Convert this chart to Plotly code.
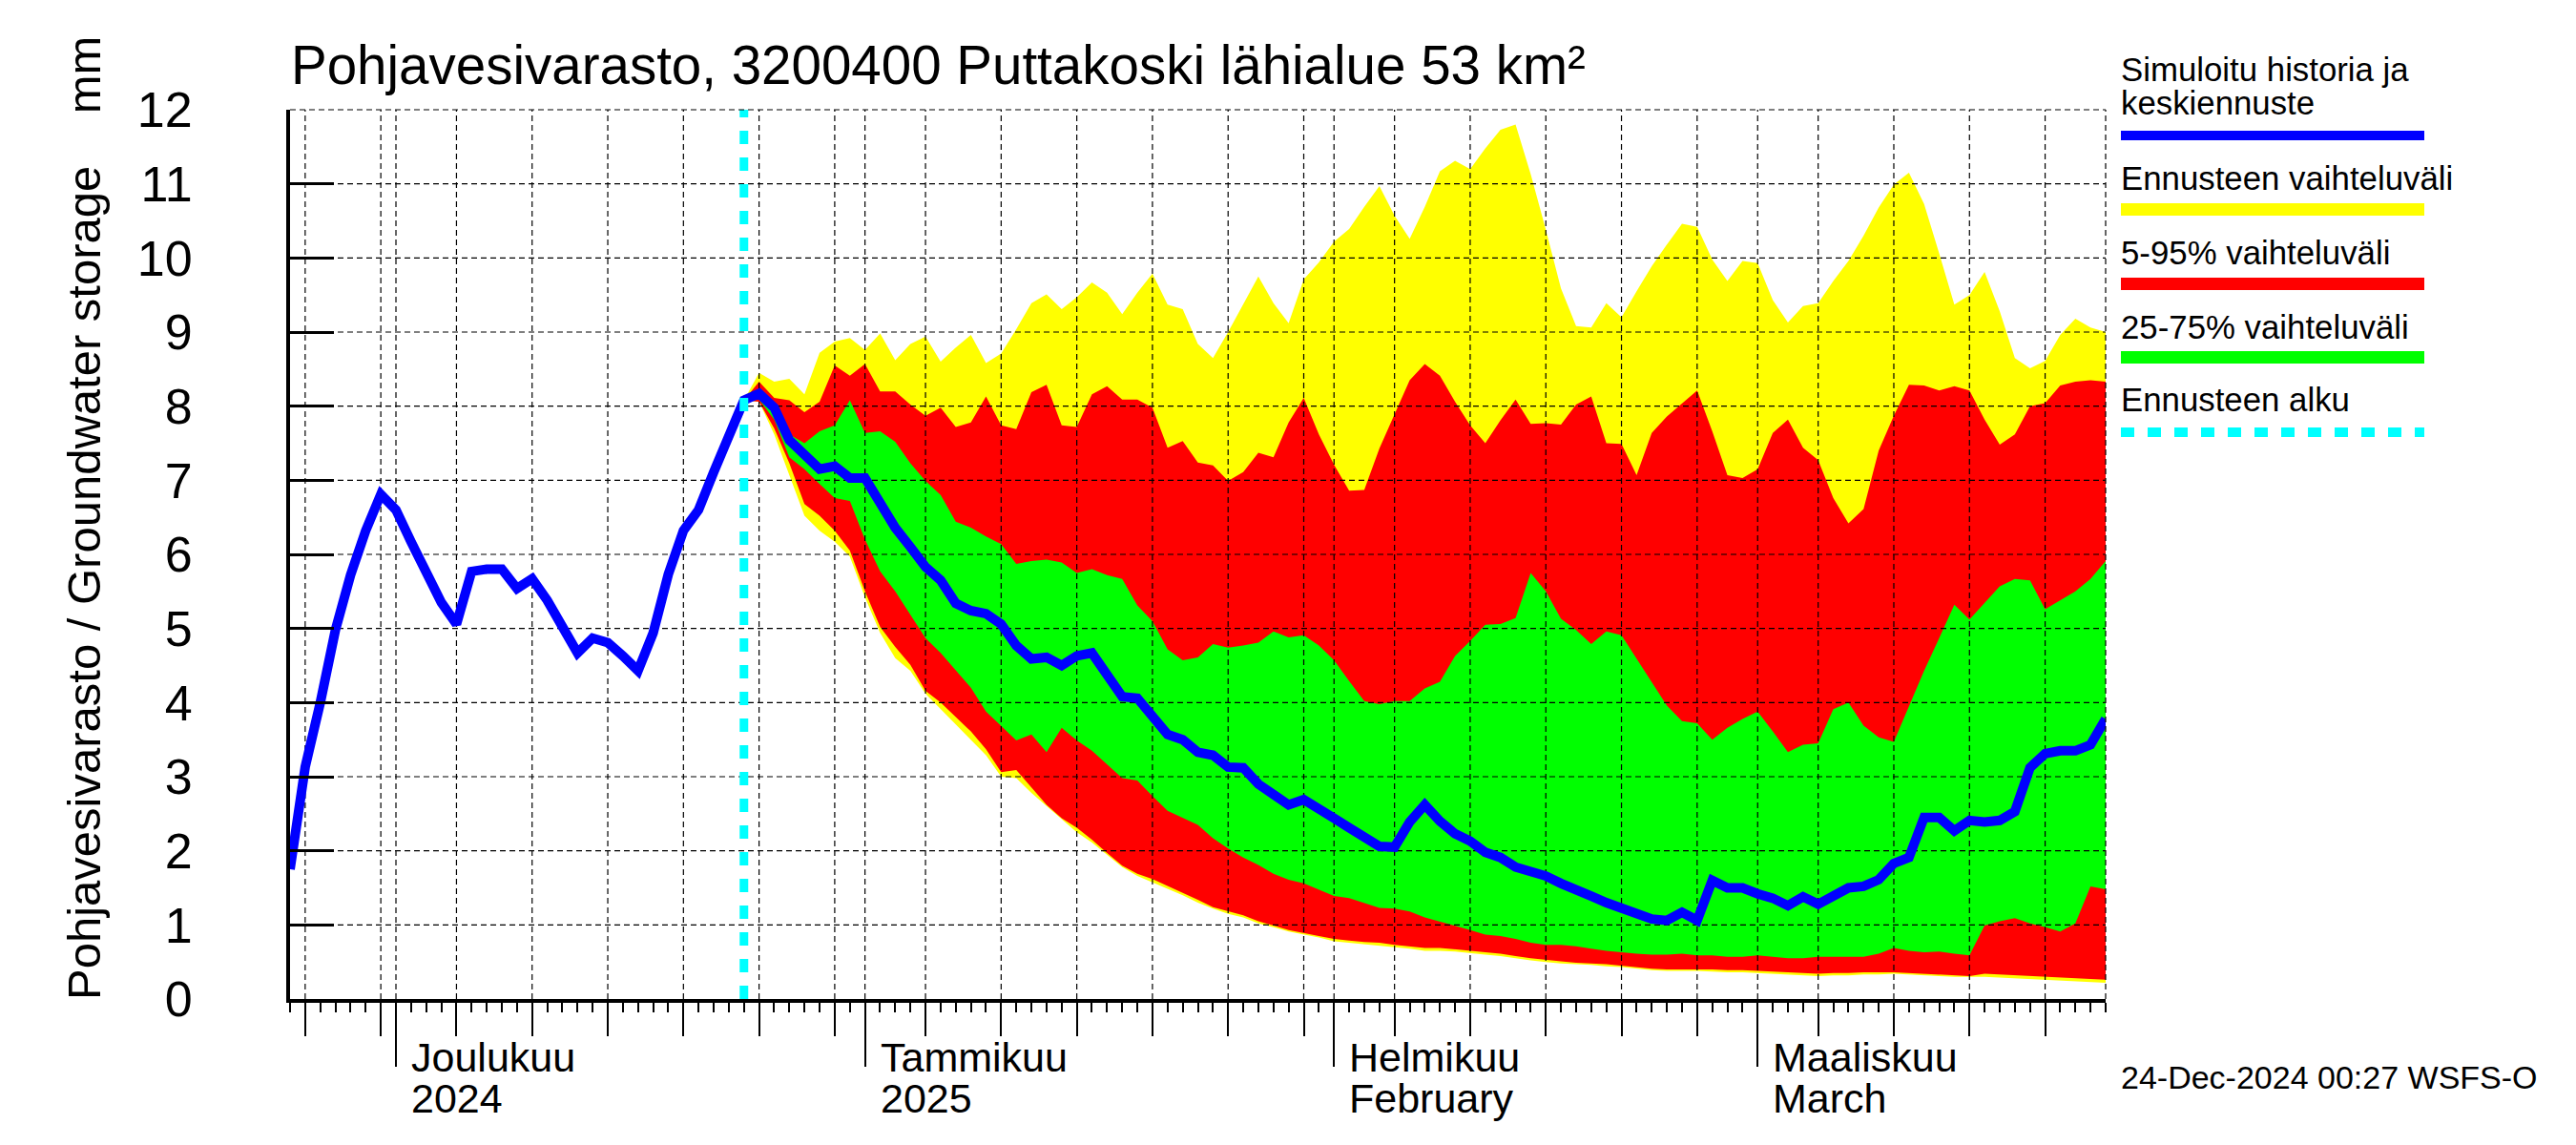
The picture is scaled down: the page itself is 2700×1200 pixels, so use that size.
import pandas as pd
import plotly.graph_objects as go

# ---------------- data ----------------
start_date = "2024-11-24"
end_date = "2025-03-24"
forecast_start = "2024-12-24"

# simulated history + median forecast, daily from 2024-11-24
storage_median = [
    1.75, 3.13, 4.0, 4.98, 5.72, 6.32, 6.81,
    6.6, 6.17, 5.77, 5.35, 5.06, 5.77, 5.8, 5.8, 5.54, 5.67,
    5.38, 5.0, 4.67, 4.87, 4.81, 4.63, 4.43, 4.94, 5.73, 6.32,
    6.6, 7.11, 7.62, 8.08, 8.17, 7.98, 7.54, 7.35, 7.15, 7.19,
    7.03, 7.03, 6.68, 6.36, 6.1, 5.83, 5.65, 5.34, 5.24, 5.2,
    5.06, 4.77, 4.59, 4.61, 4.5, 4.63, 4.67, 4.35, 4.08, 4.06,
    3.8, 3.57, 3.5, 3.33, 3.29, 3.13, 3.12, 2.9, 2.76, 2.62,
    2.69, 2.58, 2.44, 2.31, 2.19, 2.06, 2.05, 2.39, 2.62, 2.4,
    2.23, 2.13, 1.98, 1.91, 1.78, 1.72, 1.66, 1.56, 1.46, 1.39,
    1.3, 1.22, 1.15, 1.08, 1.06, 1.17, 1.06, 1.6, 1.5, 1.5,
    1.42, 1.36, 1.26, 1.38, 1.28, 1.4, 1.5, 1.52, 1.61, 1.83,
    1.91, 2.45, 2.45, 2.27, 2.41, 2.39, 2.41, 2.53, 3.12, 3.31,
    3.35, 3.35, 3.43, 3.78,
]

# forecast distribution, daily from 2024-12-24
fc_max = [
    8.08, 8.45, 8.33, 8.37, 8.16, 8.72, 8.87, 8.92, 8.76, 8.98,
    8.62, 8.84, 8.94, 8.6, 8.79, 8.96, 8.58, 8.71, 9.04, 9.39,
    9.51, 9.31, 9.47, 9.67, 9.53, 9.24, 9.53, 9.79, 9.37, 9.31,
    8.84, 8.65, 9.0, 9.37, 9.75, 9.39, 9.12, 9.71, 9.94, 10.22,
    10.39, 10.69, 10.97, 10.57, 10.26, 10.69, 11.17, 11.31, 11.2, 11.48,
    11.73, 11.8, 11.13, 10.38, 9.59, 9.08, 9.06, 9.39, 9.2, 9.55,
    9.89, 10.18, 10.46, 10.42, 9.98, 9.69, 9.96, 9.93, 9.43, 9.13,
    9.35, 9.39, 9.69, 9.96, 10.3, 10.68, 10.99, 11.15, 10.73, 10.06,
    9.37, 9.5, 9.81, 9.28, 8.65, 8.51, 8.61, 8.96, 9.18, 9.06,
    9.0,
]
fc_p95 = [
    8.08, 8.33, 8.11, 8.08, 7.92, 8.06, 8.55, 8.41, 8.57, 8.2,
    8.2, 8.02, 7.87, 7.98, 7.72, 7.78, 8.13, 7.74, 7.69, 8.19,
    8.29, 7.74, 7.72, 8.16, 8.27, 8.09, 8.09, 7.98, 7.44, 7.53,
    7.24, 7.2, 6.99, 7.11, 7.37, 7.31, 7.78, 8.11, 7.62, 7.21,
    6.86, 6.87, 7.43, 7.9, 8.35, 8.57, 8.41, 8.06, 7.74, 7.5,
    7.81, 8.09, 7.76, 7.77, 7.75, 8.02, 8.13, 7.5, 7.49, 7.07,
    7.64, 7.86, 8.03, 8.21, 7.66, 7.07, 7.03, 7.15, 7.64, 7.82,
    7.44, 7.27, 6.76, 6.42, 6.61, 7.4, 7.87, 8.29, 8.28, 8.21,
    8.27, 8.21, 7.82, 7.48, 7.62, 8.0, 8.04, 8.28, 8.33, 8.35,
    8.33,
]
fc_p75 = [
    8.08, 8.17, 7.94, 7.62, 7.5, 7.66, 7.74, 8.08, 7.64, 7.66,
    7.52, 7.23, 6.99, 6.8, 6.44, 6.36, 6.24, 6.14, 5.87, 5.91,
    5.93, 5.89, 5.75, 5.8, 5.72, 5.67, 5.31, 5.1, 4.72, 4.57,
    4.61, 4.79, 4.74, 4.77, 4.81, 4.96, 4.88, 4.91, 4.77, 4.57,
    4.29, 4.02, 3.98, 4.02, 4.02, 4.19, 4.28, 4.63, 4.83, 5.05,
    5.06, 5.14, 5.75, 5.5, 5.13, 4.98, 4.79, 4.96, 4.91, 4.59,
    4.28, 3.96, 3.75, 3.72, 3.5, 3.66, 3.78, 3.88, 3.61, 3.33,
    3.43, 3.45, 3.91, 4.0, 3.69, 3.53, 3.47, 3.96, 4.43, 4.87,
    5.32, 5.12, 5.34, 5.57, 5.67, 5.65, 5.26, 5.38, 5.5, 5.67,
    5.91,
]
fc_p25 = [
    8.08, 8.09, 7.82, 7.31, 7.15, 6.95, 6.76, 6.72, 6.2, 5.77,
    5.5, 5.18, 4.87, 4.67, 4.43, 4.2, 3.88, 3.69, 3.49, 3.57,
    3.33, 3.66, 3.49, 3.35, 3.17, 2.98, 2.95, 2.74, 2.54, 2.45,
    2.35, 2.17, 2.03, 1.91, 1.81, 1.69, 1.61, 1.56, 1.48, 1.39,
    1.36, 1.3, 1.23, 1.22, 1.18, 1.1, 1.04, 0.99, 0.93, 0.87,
    0.85, 0.81, 0.76, 0.73, 0.73, 0.71, 0.68, 0.65, 0.63, 0.61,
    0.6, 0.6, 0.61, 0.59, 0.59, 0.57, 0.57, 0.59, 0.57, 0.55,
    0.55, 0.57, 0.57, 0.57, 0.57, 0.61, 0.69, 0.65, 0.63, 0.64,
    0.61, 0.59, 0.99, 1.05, 1.09, 1.02, 0.97, 0.91, 1.02, 1.52,
    1.48,
]
fc_p5 = [
    8.08, 8.06, 7.7, 7.23, 6.68, 6.52, 6.32, 6.05, 5.5, 5.02,
    4.75, 4.51, 4.16, 4.0, 3.8, 3.61, 3.37, 3.06, 3.09, 2.86,
    2.62, 2.44, 2.31, 2.15, 1.97, 1.8, 1.69, 1.62, 1.52, 1.43,
    1.34, 1.24, 1.18, 1.13, 1.05, 0.99, 0.93, 0.89, 0.85, 0.81,
    0.79, 0.77, 0.76, 0.73, 0.71, 0.69, 0.69, 0.67, 0.65, 0.63,
    0.61, 0.58, 0.55, 0.53, 0.51, 0.49, 0.48, 0.47, 0.45, 0.43,
    0.41, 0.4, 0.4, 0.4, 0.4, 0.39, 0.39, 0.38, 0.37, 0.36,
    0.35, 0.34, 0.35, 0.35, 0.36, 0.36, 0.36, 0.35, 0.34, 0.33,
    0.32, 0.31, 0.34, 0.33, 0.32, 0.31, 0.3, 0.29, 0.28, 0.27,
    0.26,
]
fc_min = [
    8.08, 8.06, 7.62, 7.07, 6.52, 6.32, 6.17, 5.97, 5.42, 4.94,
    4.6, 4.43, 4.12, 3.92, 3.7, 3.5, 3.29, 3.0, 2.98, 2.78,
    2.6, 2.43, 2.25, 2.11, 1.95, 1.78, 1.66, 1.58, 1.49, 1.4,
    1.3, 1.22, 1.15, 1.1, 1.02, 0.97, 0.91, 0.87, 0.83, 0.78,
    0.76, 0.74, 0.72, 0.7, 0.68, 0.65, 0.65, 0.64, 0.62, 0.6,
    0.58, 0.55, 0.52, 0.5, 0.48, 0.47, 0.46, 0.44, 0.43, 0.41,
    0.39, 0.38, 0.38, 0.38, 0.37, 0.36, 0.36, 0.35, 0.34, 0.33,
    0.32, 0.31, 0.32, 0.32, 0.33, 0.33, 0.34, 0.33, 0.32, 0.31,
    0.3, 0.3, 0.3, 0.29, 0.28, 0.27, 0.26, 0.25, 0.24, 0.23,
    0.22,
]

y_tick_values = list(range(0, 13))
grid_days_of_month = [1, 5, 10, 15, 20, 25, 30]
month_label_lines = [
    ("Joulukuu", "2024"),
    ("Tammikuu", "2025"),
    ("Helmikuu", "February"),
    ("Maaliskuu", "March"),
]
legend_entries = [
    ("Simuloitu historia ja", "keskiennuste"),
    ("Ennusteen vaihteluväli",),
    ("5-95% vaihteluväli",),
    ("25-75% vaihteluväli",),
    ("Ennusteen alku",),
]
title_text = "Pohjavesivarasto, 3200400 Puttakoski lähialue 53 km²"
y_title_text = "Pohjavesivarasto / Groundwater storage" + "\u00a0" * 4 + "mm"
footer_text = "24-Dec-2024 00:27 WSFS-O"

# ---------------- styling ----------------
YELLOW, RED, GREEN, BLUE, CYAN = "#FFFF00", "#FF0000", "#00FF00", "#0000FF", "#00FFFF"
FONT = "Liberation Sans, Arial, Helvetica, sans-serif"

W, H = 2700, 1200
L, R, T, B = 304, 493, 115, 153
PW, PH = W - L - R, H - T - B


def fx(px):
    return (px - L) / PW


def fy(py):
    return (H - B - py) / PH


dates = pd.date_range(start_date, periods=len(storage_median), freq="D")
fc_dates = pd.date_range(forecast_start, periods=len(fc_max), freq="D")
all_days = pd.date_range(start_date, end_date, freq="D")
grid_days = [d for d in all_days if d.day in grid_days_of_month]
month_starts = [d for d in all_days if d.day == 1]

fig = go.Figure()


def band(upper, lower, color):
    xs = list(fc_dates) + list(fc_dates[::-1])
    ys = list(upper) + list(lower[::-1])
    fig.add_trace(go.Scatter(x=xs, y=ys, mode="lines", fill="toself",
                             fillcolor=color, line=dict(width=0, color=color),
                             hoverinfo="skip", showlegend=False))


band(fc_max, fc_min, YELLOW)
band(fc_p95, fc_p5, RED)
band(fc_p75, fc_p25, GREEN)

# dashed grid drawn above the bands, below the lines
gx, gy = [], []
for d in grid_days:
    gx += [d, d, None]
    gy += [y_tick_values[0], y_tick_values[-1], None]
for v in y_tick_values[1:-1]:
    gx += [all_days[0], all_days[-1], None]
    gy += [v, v, None]
fig.add_trace(go.Scatter(x=gx, y=gy, mode="lines",
                         line=dict(color="black", width=1.2, dash="6px,4px"),
                         hoverinfo="skip", showlegend=False, connectgaps=False))

fig.add_trace(go.Scatter(x=dates, y=storage_median, mode="lines",
                         line=dict(color=BLUE, width=10), showlegend=False))

fig.add_trace(go.Scatter(x=[fc_dates[0], fc_dates[0]],
                         y=[y_tick_values[0], y_tick_values[-1]], mode="lines",
                         line=dict(color=CYAN, width=9, dash="14px,14px"),
                         showlegend=False, hoverinfo="skip"))

# dummy trace to carry the month-tick axis
fig.add_trace(go.Scatter(x=month_starts, y=[None] * len(month_starts),
                         xaxis="x2", yaxis="y", mode="lines",
                         showlegend=False, hoverinfo="skip"))

shapes = []
# dashed top and right borders
shapes.append(dict(type="line", xref="paper", yref="paper", x0=0, x1=1, y0=1, y1=1,
                   line=dict(color="black", width=1.2, dash="6px,4px"), layer="above"))
shapes.append(dict(type="line", xref="paper", yref="paper", x0=1, x1=1, y0=0, y1=1,
                   line=dict(color="black", width=1.2, dash="6px,4px"), layer="above"))

# legend
leg_x0, leg_x1 = fx(2223), fx(2541)
leg_items = [
    (BLUE, 10, None, 142, [83, 118]),
    (YELLOW, 13, None, 219.5, [197]),
    (RED, 13, None, 297.5, [275]),
    (GREEN, 13, None, 374.5, [353]),
    (CYAN, 10, "14px,14px", 453, [429]),
]
annotations = []
LEG_FS = 34.8
for (color, wdt, dash, yc, baselines), texts in zip(leg_items, legend_entries):
    ln = dict(color=color, width=wdt)
    if dash:
        ln["dash"] = dash
    shapes.append(dict(type="line", xref="paper", yref="paper",
                       x0=leg_x0, x1=leg_x1, y0=fy(yc), y1=fy(yc), line=ln))
    for txt, bl in zip(texts, baselines):
        annotations.append(dict(text=txt, xref="paper", yref="paper",
                                x=fx(2221), y=fy(bl - 0.905 * LEG_FS - 1),
                                xanchor="left", yanchor="top", showarrow=False,
                                font=dict(family=FONT, size=LEG_FS, color="black")))

# title
TITLE_FS = 56.5
annotations.append(dict(text=title_text, xref="paper", yref="paper",
                        x=fx(303), y=fy(87 - 0.905 * TITLE_FS - 1),
                        xanchor="left", yanchor="top", showarrow=False,
                        font=dict(family=FONT, size=TITLE_FS, color="black")))
# y title
annotations.append(dict(text=y_title_text, xref="paper", yref="paper",
                        x=fx(88), y=fy(543), xanchor="center", yanchor="middle",
                        textangle=-90, showarrow=False,
                        font=dict(family=FONT, size=49, color="black")))
# month labels
MON_FS = 43
for d, (l1, l2) in zip(month_starts, month_label_lines):
    annotations.append(dict(text=l1, xref="x", yref="paper", x=d, xshift=14,
                            y=fy(1122 - 0.905 * MON_FS - 1), xanchor="left", yanchor="top",
                            showarrow=False, font=dict(family=FONT, size=MON_FS, color="black")))
    annotations.append(dict(text=l2, xref="x", yref="paper", x=d, xshift=14,
                            y=fy(1165 - 0.905 * MON_FS - 1), xanchor="left", yanchor="top",
                            showarrow=False, font=dict(family=FONT, size=MON_FS, color="black")))
# footer
FOOT_FS = 34
annotations.append(dict(text=footer_text, xref="paper", yref="paper",
                        x=fx(2221), y=fy(1140 - 0.905 * FOOT_FS - 1),
                        xanchor="left", yanchor="top", showarrow=False,
                        font=dict(family=FONT, size=FOOT_FS, color="black")))

fig.update_layout(
    width=W, height=H, autosize=False,
    margin=dict(l=L, r=R, t=T, b=B, pad=0),
    paper_bgcolor="white", plot_bgcolor="white",
    showlegend=False,
    font=dict(family=FONT, color="black"),
    xaxis=dict(
        type="date", range=[all_days[0], all_days[-1]],
        tickmode="array", tickvals=grid_days, showticklabels=False,
        ticks="outside", ticklen=35, tickwidth=1.5, tickcolor="black",
        minor=dict(tickmode="array", tickvals=list(all_days), ticks="outside",
                   ticklen=10, tickwidth=1.5, tickcolor="black", showgrid=False),
        showgrid=False, zeroline=False,
        showline=True, linewidth=4, linecolor="black", layer="above traces",
    ),
    xaxis2=dict(
        type="date", range=[all_days[0], all_days[-1]], overlaying="x",
        anchor="y", side="bottom",
        tickmode="array", tickvals=month_starts, showticklabels=False,
        ticks="outside", ticklen=70, tickwidth=2, tickcolor="black",
        showgrid=False, zeroline=False, showline=False,
    ),
    yaxis=dict(
        range=[y_tick_values[0], y_tick_values[-1]], tickmode="array",
        tickvals=y_tick_values, ticks="inside", ticklen=46, tickwidth=3,
        tickcolor="black", showgrid=False, zeroline=False,
        showline=True, linewidth=4, linecolor="black", layer="above traces",
        tickfont=dict(family=FONT, size=52, color="black"),
        ticklabelstandoff=88,
    ),
    shapes=shapes,
    annotations=annotations,
)

fig.write_html("out.html", config={"displayModeBar": False},
               post_script="document.body.style.margin='0';")
